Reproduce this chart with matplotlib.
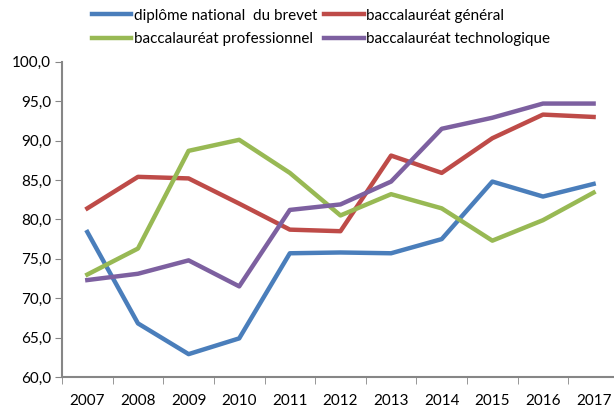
import matplotlib
matplotlib.use("Agg")
import matplotlib.pyplot as plt
import numpy as np

years = ["2007", "2008", "2009", "2010", "2011", "2012", "2013", "2014", "2015", "2016", "2017"]
brevet = [78.4, 66.8, 62.9, 64.9, 75.7, 75.8, 75.7, 77.5, 84.8, 82.9, 84.5]
bac_general = [81.4, 85.4, 85.2, 82.0, 78.7, 78.5, 88.1, 85.9, 90.3, 93.3, 93.0]
bac_pro = [73.0, 76.3, 88.7, 90.1, 85.9, 80.5, 83.2, 81.4, 77.3, 79.9, 83.4]
bac_techno = [72.3, 73.1, 74.8, 71.5, 81.2, 81.9, 84.8, 91.5, 92.9, 94.7, 94.7]
yticks = [60, 65, 70, 75, 80, 85, 90, 95, 100]

plt.rcParams['font.family'] = ['Lato', 'DejaVu Sans']

fig = plt.figure(figsize=(6.14, 4.12), dpi=100)
ax = fig.add_axes([0.101, 0.085, 0.907, 0.765])

x = np.arange(len(years))
lw = 3.2
l1, = ax.plot(x, brevet, color="#4A7EBB", lw=lw, label="diplôme national  du brevet")
l2, = ax.plot(x, bac_general, color="#BE4B48", lw=lw, label="baccalauréat général")
l3, = ax.plot(x, bac_pro, color="#98B954", lw=lw, label="baccalauréat professionnel")
l4, = ax.plot(x, bac_techno, color="#7D60A0", lw=lw, label="baccalauréat technologique")

ax.set_xlim(-0.5, len(years) - 0.5)
ax.set_ylim(60, 100)
ax.set_yticks(yticks)
ax.set_yticklabels([f"{v:.1f}".replace(".", ",") for v in yticks], fontsize=11)
ax.set_xticks(x)
ax.set_xticklabels(years, fontsize=11)
ax.set_xticks(np.arange(-0.5, len(years), 1.0), minor=True)
ax.tick_params(axis='x', which='major', length=0, pad=12)
ax.tick_params(axis='x', which='minor', length=5, color="#868686", direction='out')
ax.tick_params(axis='y', length=5, color="#868686", direction='out', pad=3)

for s in ["top", "right"]:
    ax.spines[s].set_visible(False)
for s in ["left", "bottom"]:
    ax.spines[s].set_color("#868686")
    ax.spines[s].set_linewidth(1.5)

fig.legend(handles=[l1, l3, l2, l4], ncol=2, loc="upper left",
           bbox_to_anchor=(0.127, 1.012), frameon=False, fontsize=11,
           handlelength=2.6, handletextpad=0.15, columnspacing=0.45,
           labelspacing=0.6)

fig.savefig("out.png", dpi=100)
